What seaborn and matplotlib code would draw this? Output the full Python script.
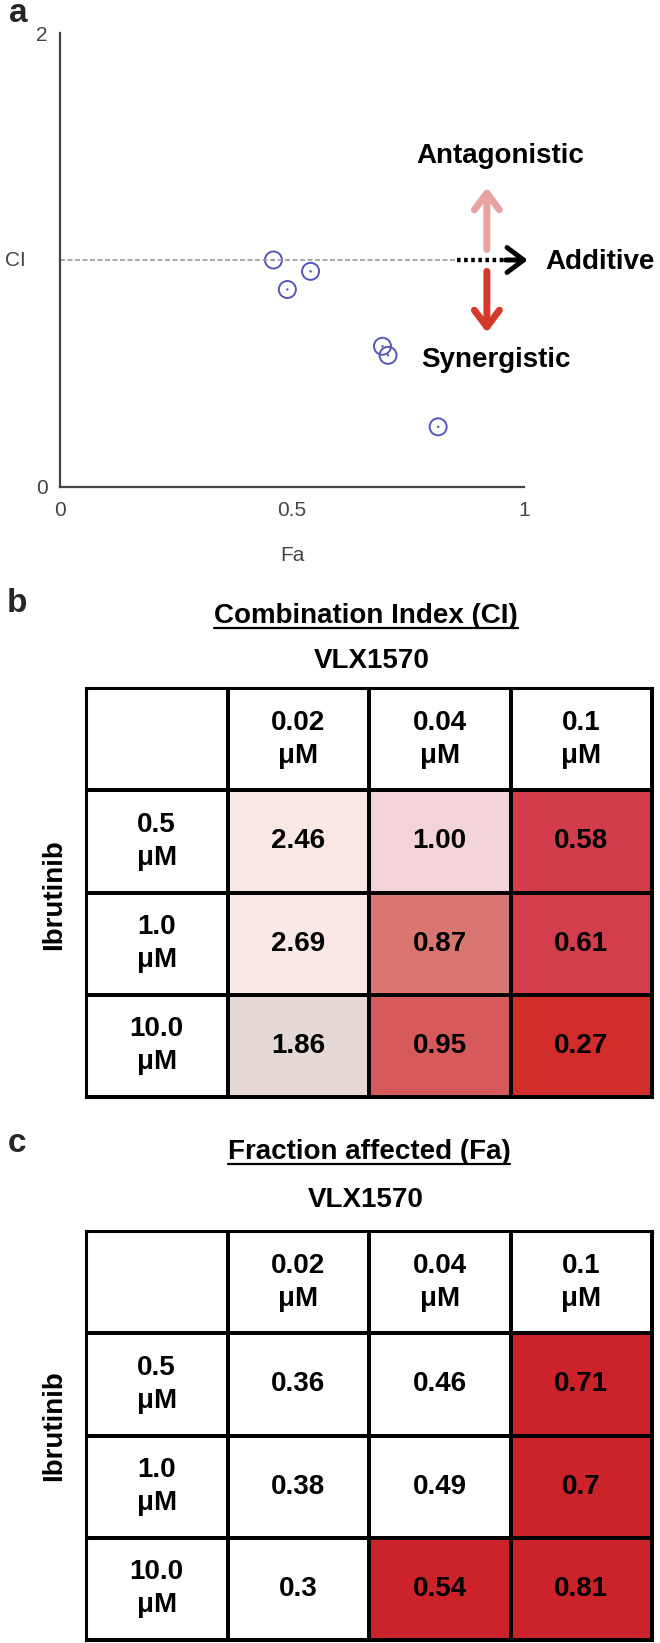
import numpy as np
import seaborn as sns
import matplotlib.pyplot as plt
from matplotlib.colors import ListedColormap
from matplotlib.lines import Line2D

fa_points = [0.46, 0.49, 0.54, 0.695, 0.707, 0.815]
ci_points = [1.00, 0.87, 0.95, 0.62, 0.58, 0.265]

# panels b and c
vlx_doses = ["0.02", "0.04", "0.1"]
ibr_doses = ["0.5", "1.0", "10.0"]
ci_values = [[2.46, 1.00, 0.58],
             [2.69, 0.87, 0.61],
             [1.86, 0.95, 0.27]]
fa_values = [[0.36, 0.46, 0.71],
             [0.38, 0.49, 0.7],
             [0.3, 0.54, 0.81]]

# fill colours of the CI cells, row by row
ci_colors = ["#f9e7e4", "#f2d4d8", "#d33c4b",
             "#f9e8e5", "#da7672", "#d33e4c",
             "#e6d8d4", "#d65a5c", "#d02d2b"]
fa_red = "#cc2229"

sns.set_style("white")
plt.rcParams["font.family"] = ["Liberation Sans", "DejaVu Sans"]

W, H = 660, 1643
fig = plt.figure(figsize=(W / 100, H / 100), dpi=100)


def fx(px):
    return px / W


def fy(py):
    return 1 - py / H


def box(x0, y0, x1, y1):
    # pixel box (top-left origin) -> figure fraction rect
    return [fx(x0), fy(y1), fx(x1) - fx(x0), (y1 - y0) / H]


# ---------------- panel a ----------------
ax = fig.add_axes(box(60, 33, 524, 487))
ax.hlines(1, 0, 0.86, color="#9a9a9a", lw=1.2, ls=(0, (3, 1.5)))
sns.scatterplot(x=fa_points, y=ci_points, marker="o", s=150,
                facecolors="none", edgecolors="#5656b8", linewidth=1.4, ax=ax)
sns.scatterplot(x=fa_points, y=ci_points, marker="o", s=3,
                color="#5656b8", edgecolor="none", ax=ax)
ax.set_xlim(0, 1)
ax.set_ylim(0, 2)
sns.despine(ax=ax)
for s in ["left", "bottom"]:
    ax.spines[s].set_linewidth(1.6)
    ax.spines[s].set_color("#444444")

tick_font = dict(family=["Liberation Sans Narrow", "Liberation Sans"], size=15)
ax.set_xticks([0, 0.5, 1])
ax.set_xticklabels(["0", "0.5", "1"], **tick_font, color="#444444")
ax.set_xticks(np.arange(0, 1.01, 0.1), minor=True)
ax.set_yticks([0, 1, 2])
ax.set_yticklabels(["0", "", "2"], **tick_font, color="#444444")
ax.set_yticks([0.5, 1.5], minor=True)
ax.tick_params(which="both", direction="in", length=5, width=1.2, color="#444444")
ax.tick_params(axis="x", pad=10)
ax.tick_params(axis="y", pad=9)
ax.set_xlabel("Fa", **tick_font, color="#444444")
ax.xaxis.set_label_coords(0.5, -(546 - 487) / 454)
ax.set_ylabel("CI", rotation=0, ha="center", va="center", **tick_font, color="#444444")
ax.yaxis.set_label_coords(-45 / 464, 0.5)

# additive / antagonistic / synergistic arrows
ax.plot([0.856, 0.985], [1, 1], color="black", lw=3.2, ls=(0, (0.8, 0.8)), clip_on=False)
ax.annotate("", xy=(1.008, 1), xytext=(0.96, 1), annotation_clip=False,
            arrowprops=dict(arrowstyle="->,head_length=0.6,head_width=0.45",
                            lw=3.5, color="black", mutation_scale=20, shrinkA=0, shrinkB=0))
ax.annotate("", xy=(0.92, 1.32), xytext=(0.92, 1.046), annotation_clip=False,
            arrowprops=dict(arrowstyle="->,head_length=0.6,head_width=0.45",
                            lw=5, color="#e9a3a3", mutation_scale=20, shrinkA=0, shrinkB=0))
ax.annotate("", xy=(0.92, 0.68), xytext=(0.92, 0.95), annotation_clip=False,
            arrowprops=dict(arrowstyle="->,head_length=0.6,head_width=0.45",
                            lw=5, color="#d4392c", mutation_scale=20, shrinkA=0, shrinkB=0))
label_font = dict(size=20, weight="bold", color="black")
ax.text(0.948, 1.457, "Antagonistic", ha="center", va="center", clip_on=False, **label_font)
ax.text(0.94, 0.56, "Synergistic", ha="center", va="center", clip_on=False, **label_font)
ax.text(1.045, 0.99, "Additive", ha="left", va="center", clip_on=False, **label_font)


# ---------------- panels b and c ----------------
def draw_table(ax, values, fmt, color_index, colors):
    n = len(vlx_doses)
    labels = np.full((n + 1, n + 1), "", dtype=object)
    idx = np.zeros((n + 1, n + 1))
    for j, d in enumerate(vlx_doses):
        labels[0, j + 1] = d + "\nμM"
    for i, d in enumerate(ibr_doses):
        labels[i + 1, 0] = d + "\nμM"
        for j in range(n):
            labels[i + 1, j + 1] = fmt(values[i][j])
            idx[i + 1, j + 1] = color_index(i, j)
    cmap = ListedColormap(["white"] + colors)
    sns.heatmap(idx, annot=labels, fmt="", cmap=cmap, vmin=-0.5, vmax=cmap.N - 0.5,
                cbar=False, linewidths=1.6, linecolor="black",
                xticklabels=False, yticklabels=False,
                annot_kws=dict(size=20, weight="bold", color="black", linespacing=1.35),
                ax=ax)
    for s in ax.spines.values():
        s.set_visible(True)
        s.set_linewidth(2.2)
        s.set_color("black")


axb = fig.add_axes(box(86, 688, 652, 1097))
draw_table(axb, ci_values, lambda v: f"{v:.2f}",
           lambda i, j: i * 3 + j + 1, ci_colors)

axc = fig.add_axes(box(86, 1231, 652, 1640))
draw_table(axc, fa_values, lambda v: f"{v:g}",
           lambda i, j: 1 if fa_values[i][j] > 0.5 else 0, [fa_red])

# panel letters, titles and side labels
big = dict(size=20, weight="bold", color="black")
fig.text(fx(18), fy(13), "a", ha="center", va="center", size=24, weight="bold")
fig.text(fx(17), fy(604), "b", ha="center", va="center", size=24, weight="bold")
fig.text(fx(17), fy(1143), "c", ha="center", va="center", size=24, weight="bold")

titles = [
    fig.text(fx(366), fy(616), "Combination Index (CI)", ha="center", va="center", **big),
    fig.text(fx(369), fy(1152), "Fraction affected (Fa)", ha="center", va="center", **big),
]
fig.text(fx(372), fy(661), "VLX1570", ha="center", va="center", **big)
fig.text(fx(366), fy(1200), "VLX1570", ha="center", va="center", **big)
fig.text(fx(54), fy(895), "Ibrutinib", ha="center", va="center", rotation=90, **big)
fig.text(fx(54), fy(1426), "Ibrutinib", ha="center", va="center", rotation=90, **big)

# underline the two table titles
renderer = fig.canvas.get_renderer()
for t in titles:
    bb = t.get_window_extent(renderer).transformed(fig.transFigure.inverted())
    fig.add_artist(Line2D([bb.x0, bb.x1], [bb.y0 + 0.0005, bb.y0 + 0.0005],
                          color="black", lw=1.6, transform=fig.transFigure))

fig.savefig("out.png", dpi=100)
